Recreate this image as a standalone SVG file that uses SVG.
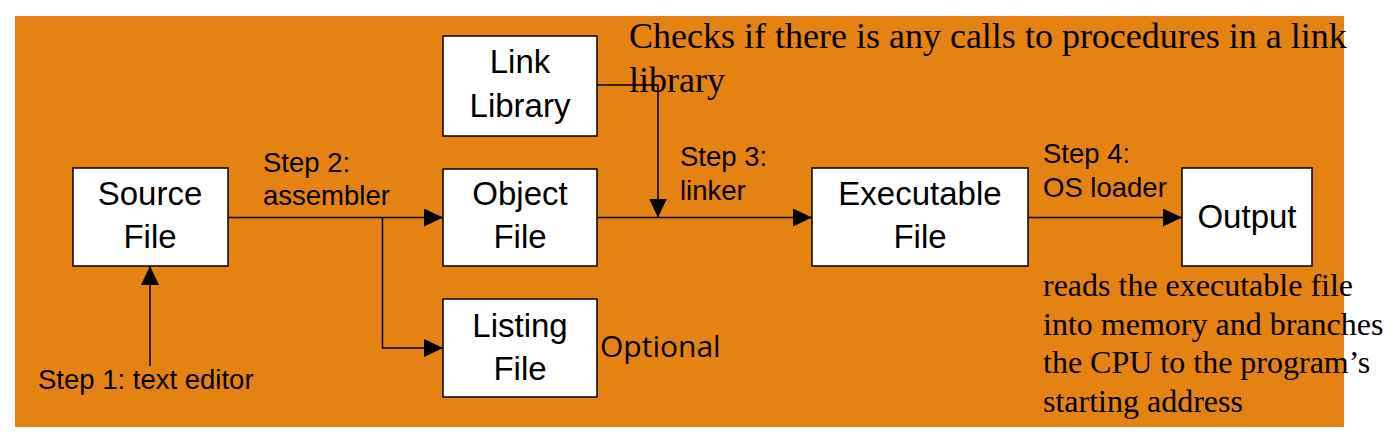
<svg xmlns="http://www.w3.org/2000/svg" width="1399" height="443" viewBox="0 0 1399 443">
<style>
.box{fill:#ffffff;stroke:#000000;stroke-width:1.5}
.bt{font-family:"Liberation Sans",Arial,sans-serif;font-size:33px;fill:#000;text-anchor:middle}
.st{font-family:"Liberation Sans",Arial,sans-serif;font-size:27.5px;fill:#000}
.sr{font-family:"Liberation Serif","Times New Roman",serif;fill:#000}
.ln{fill:none;stroke:#000;stroke-width:1.5}
</style>
<defs>
<marker id="ah" viewBox="0 0 19 18" refX="19" refY="9" markerWidth="19" markerHeight="18" markerUnits="userSpaceOnUse" orient="auto">
<path d="M0,0 L19,9 L0,18 Z" fill="#000"/>
</marker>
</defs>
<rect x="15" y="16" width="1329" height="411" fill="#E48212"/>
<g id="connectors">
<path class="ln" d="M228,217.5 H443" marker-end="url(#ah)"/>
<path class="ln" d="M382.5,217.5 V348 H443" marker-end="url(#ah)"/>
<path class="ln" d="M597,85 H658 V217.5" marker-end="url(#ah)"/>
<path class="ln" d="M597,217.5 H812" marker-end="url(#ah)"/>
<path class="ln" d="M1028,217.5 H1182" marker-end="url(#ah)"/>
<path class="ln" d="M150,366 V266" marker-end="url(#ah)"/>
</g>
<g id="source-file">
<rect class="box" x="73" y="168" width="155" height="98"/>
<text class="bt" x="150" y="205">Source</text>
<text class="bt" x="150" y="248">File</text>
</g>
<g id="link-library">
<rect class="box" x="443" y="36" width="154" height="100"/>
<text class="bt" x="520" y="73">Link</text>
<text class="bt" x="520" y="117">Library</text>
</g>
<g id="object-file">
<rect class="box" x="443" y="169" width="154" height="97"/>
<text class="bt" x="520" y="205">Object</text>
<text class="bt" x="520" y="248">File</text>
</g>
<g id="listing-file">
<rect class="box" x="443" y="299" width="154" height="98"/>
<text class="bt" x="520" y="337">Listing</text>
<text class="bt" x="520" y="380">File</text>
</g>
<g id="executable-file">
<rect class="box" x="812" y="168" width="216" height="98"/>
<text class="bt" x="920" y="205">Executable</text>
<text class="bt" x="920" y="248">File</text>
</g>
<g id="output">
<rect class="box" x="1182" y="168" width="130" height="98"/>
<text class="bt" x="1247" y="228">Output</text>
</g>
<g id="labels">
<text class="st" x="263" y="172">Step 2:</text>
<text class="st" x="263" y="205">assembler</text>
<text class="st" x="680" y="166">Step 3:</text>
<text class="st" x="680" y="200">linker</text>
<text class="st" x="1043" y="163">Step 4:</text>
<text class="st" x="1043" y="197">OS loader</text>
<text class="st" x="38" y="389">Step 1: text editor</text>
<text x="600" y="357" style="font-family:'Open Sans','Noto Sans',sans-serif;font-size:30px;fill:#000">Optional</text>
<text class="sr" x="629" y="48" style="font-size:36px">Checks if there is any calls to procedures in a link</text>
<text class="sr" x="629" y="92" style="font-size:36px">library</text>
<text class="sr" style="font-size:32px"><tspan x="1043" y="296">reads the executable file</tspan><tspan x="1043" y="335">into memory and branches</tspan><tspan x="1043" y="373">the CPU to the program’s</tspan><tspan x="1043" y="412">starting address</tspan></text>
</g>
</svg>
